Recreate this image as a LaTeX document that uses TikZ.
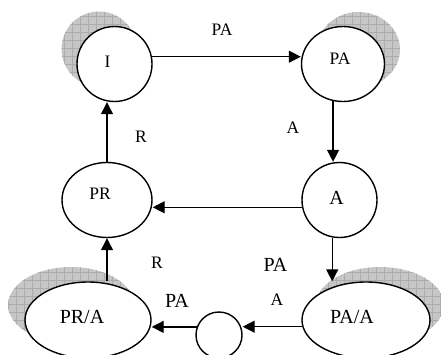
\documentclass[tikz,border=0pt]{standalone}
\usepackage{fontspec}
\setmainfont{Liberation Serif}
\usetikzlibrary{shapes.geometric,arrows.meta}
\begin{document}
\begin{tikzpicture}[x=1pt,y=-1pt,
  state/.style={ellipse,draw=black,line width=1.4pt,fill=white,inner sep=0pt},
  arr/.style={line width=1.3pt,-{Triangle[length=12pt,width=12pt]}},
  lab/.style={font=\fontsize{17.5}{17.5}\selectfont,inner sep=0pt},
  big/.style={font=\fontsize{20}{20}\selectfont,inner sep=0pt}]
\useasboundingbox (0,0) rectangle (441,354);
\newcommand{\shadowfill}{%
  \fill[gray!45] (0,0) rectangle (441,354);
  \draw[gray!65,line width=0.35pt,step=8pt] (0,0) grid (441,354);}
% shadows
\begin{scope}\clip (99,49) ellipse (37.5 and 37.5);\shadowfill\end{scope}
\begin{scope}\clip (358.5,49.5) ellipse (41.5 and 37.5);\shadowfill\end{scope}
\begin{scope}\clip (71,305) ellipse (63 and 38);\shadowfill\end{scope}
\begin{scope}\clip (380,305) ellipse (64 and 38);\shadowfill\end{scope}
% states
\node[state,minimum width=75pt,minimum height=75pt,
  label={[lab,xshift=-7pt,yshift=2pt]center:I}] (I) at (114.5,64) {};
\node[state,minimum width=83pt,minimum height=75pt,
  label={[lab,xshift=-3pt,yshift=5pt]center:PA}] (PA) at (343,64) {};
\node[state,minimum width=75pt,minimum height=75pt,
  label={[big,xshift=-3pt,yshift=2pt]center:A}] (A) at (339.5,200) {};
\node[state,minimum width=90pt,minimum height=75pt,
  label={[lab,xshift=-7pt,yshift=6pt]center:PR}] (PR) at (107,200) {};
\node[state,minimum width=126pt,minimum height=76pt,
  label={[big,xshift=-6pt,yshift=3.5pt]center:PR/A}] (PRA) at (88,320) {};
\node[state,minimum width=128pt,minimum height=76pt,
  label={[big,xshift=-14pt,yshift=3.5pt]center:PA/A}] (PAA) at (366,320) {};
\node[state,minimum width=46pt,minimum height=46pt] (S) at (219,335) {};
% connectors
\draw[arr] (I.11) -- (I.11 -| PA.west);
\draw[arr] (PA.255) -- (PA.255 |- A.north);
\draw[arr] (A.191) -- (A.191 -| PR.east);
\draw[arr] (PR.north) -- (PR.north |- I.south);
\draw[arr] (A.259) -- (A.259 |- PAA.north);
\draw[arr] (PAA.186) -- (PAA.186 -| S.east);
\draw[arr] (S.160) -- (S.160 -| PRA.east);
\draw[arr] (PR.south |- PRA.north) -- (PR.south);
% labels
\node[lab] (l1) at (222,30) {PA};
\node[lab] (l2) at (293,128) {A};
\node[lab] (l3) at (141,137) {R};
\node[lab] (l4) at (157,263) {R};
\node[big] (l5) at (177,301) {PA};
\node[big] (l6) at (275.5,265) {PA};
\node[lab] (l7) at (277,300) {A};
\end{tikzpicture}
\end{document}
